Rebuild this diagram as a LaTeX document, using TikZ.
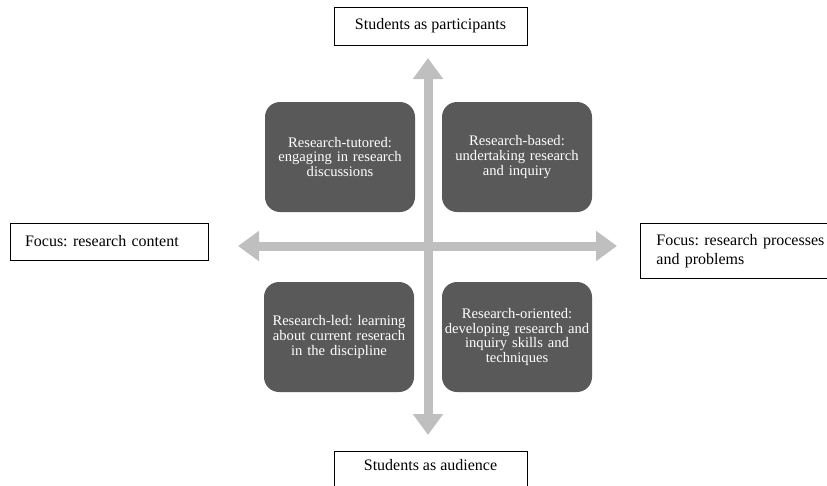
\documentclass[tikz,border=0pt]{standalone}
\usepackage{fontspec}
\setmainfont{Liberation Serif}
\usetikzlibrary{arrows.meta, positioning}
\frenchspacing

\begin{document}
\begin{tikzpicture}[x=1pt, y=-1pt,
      lbl/.style={draw=black, line width=0.8pt, fill=white, font=\fontsize{16}{19}\selectfont, inner sep=0pt},
      quad/.style={rectangle, rounded corners=15pt, fill=black!65, text=white, align=center, font=\fontsize{14.6}{14.8}\selectfont, minimum width=150pt, minimum height=110pt, text width=146pt, inner sep=0pt},
      axe/.style={draw=black!25, line width=9pt, {Triangle[width=29pt, length=21pt]}-{Triangle[width=29pt, length=21pt]}}]
      \path[use as bounding box] (0,0) rectangle (827,485);
      \clip (0,0) rectangle (827,485);

      % the two axes
      \coordinate (up) at (428,58);
      \coordinate (down) at (428,435);
      \coordinate (lt) at (238,246);
      \coordinate (rt) at (617,246);
      \draw[axe] (lt) -- (rt);
      \draw[axe] (down) -- (up);

      % axis labels
      \node[lbl, minimum width=193pt, minimum height=38pt] (part) at (430.5,26) {Students as participants};
      \node[lbl, anchor=north, minimum width=193pt, inner ysep=8pt, text height=11pt, text depth=30pt] (aud) at (430.5,451) {Students as audience};
      \node[lbl, minimum height=37pt, text width=168pt, inner xsep=15pt, align=left] (content) at (109,241.5) {Focus: research content};
      \node[lbl, anchor=north west, minimum height=55pt, text width=200pt, inner xsep=16pt, align=left] (process) at (640,223) {Focus: research processes\\and problems};

      % quadrants
      \node[quad] (tutored) at (340,157) {Research-tutored:\\engaging in research\\discussions};
      \node[quad] (based) at (517,157) {Research-based:\\undertaking research\\and inquiry};
      \node[quad] (led) at (339,337) {Research-led: learning\\about current reserach\\in the discipline};
      \node[quad] (oriented) at (517,337) {Research-oriented:\\developing research and\\inquiry skills and\\techniques};
\end{tikzpicture}
\end{document}
